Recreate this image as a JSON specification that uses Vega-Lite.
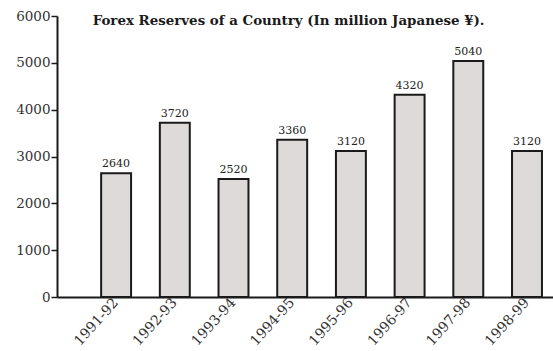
{
  "$schema": "https://vega.github.io/schema/vega-lite/v6.json",
  "autosize": {"type": "none"},
  "width": 496,
  "height": 281,
  "padding": {"left": 57, "top": 16, "right": 0, "bottom": 54},
  "background": "#ffffff",
  "title": {
    "text": "Forex Reserves of a Country (In million Japanese ¥).",
    "font": "DejaVu Serif",
    "fontSize": 13.4,
    "fontWeight": "bold",
    "color": "#1a1a1a",
    "anchor": "start",
    "orient": "top",
    "dx": 77,
    "offset": -29,
    "baseline": "alphabetic"
  },
  "data": {
    "values": [
      {"year": "1991-92", "value": 2640},
      {"year": "1992-93", "value": 3720},
      {"year": "1993-94", "value": 2520},
      {"year": "1994-95", "value": 3360},
      {"year": "1995-96", "value": 3120},
      {"year": "1996-97", "value": 4320},
      {"year": "1997-98", "value": 5040},
      {"year": "1998-99", "value": 3120}
    ]
  },
  "encoding": {
    "x": {
      "field": "year",
      "type": "nominal",
      "sort": null,
      "title": null,
      "scale": {"paddingInner": 0.49, "paddingOuter": 0.47, "align": 0.8},
      "axis": {
        "labelAngle": -48,
        "labelFont": "DejaVu Serif",
        "labelFontSize": 14,
        "labelColor": "#333333",
        "labelPadding": 3,
        "labelDx": 3,
        "ticks": false,
        "domainColor": "#1a1a1a",
        "domainWidth": 2,
        "grid": false
      }
    },
    "y": {
      "field": "value",
      "type": "quantitative",
      "title": null,
      "scale": {"domain": [0, 6000], "nice": false},
      "axis": {
        "values": [0, 1000, 2000, 3000, 4000, 5000, 6000],
        "format": "d",
        "labelFont": "DejaVu Serif",
        "labelFontSize": 13.5,
        "labelColor": "#333333",
        "labelPadding": 1,
        "tickSize": 6,
        "tickColor": "#1a1a1a",
        "tickWidth": 1.5,
        "domainColor": "#1a1a1a",
        "domainWidth": 2,
        "grid": false
      }
    }
  },
  "layer": [
    {
      "mark": {"type": "bar", "fill": "#dedada", "stroke": "#1a1a1a", "strokeWidth": 2}
    },
    {
      "mark": {"type": "text", "font": "DejaVu Serif", "fontSize": 11, "color": "#222222", "baseline": "alphabetic", "dy": -6},
      "encoding": {"text": {"field": "value", "type": "quantitative", "format": "d"}}
    }
  ],
  "config": {"view": {"stroke": null}}
}
